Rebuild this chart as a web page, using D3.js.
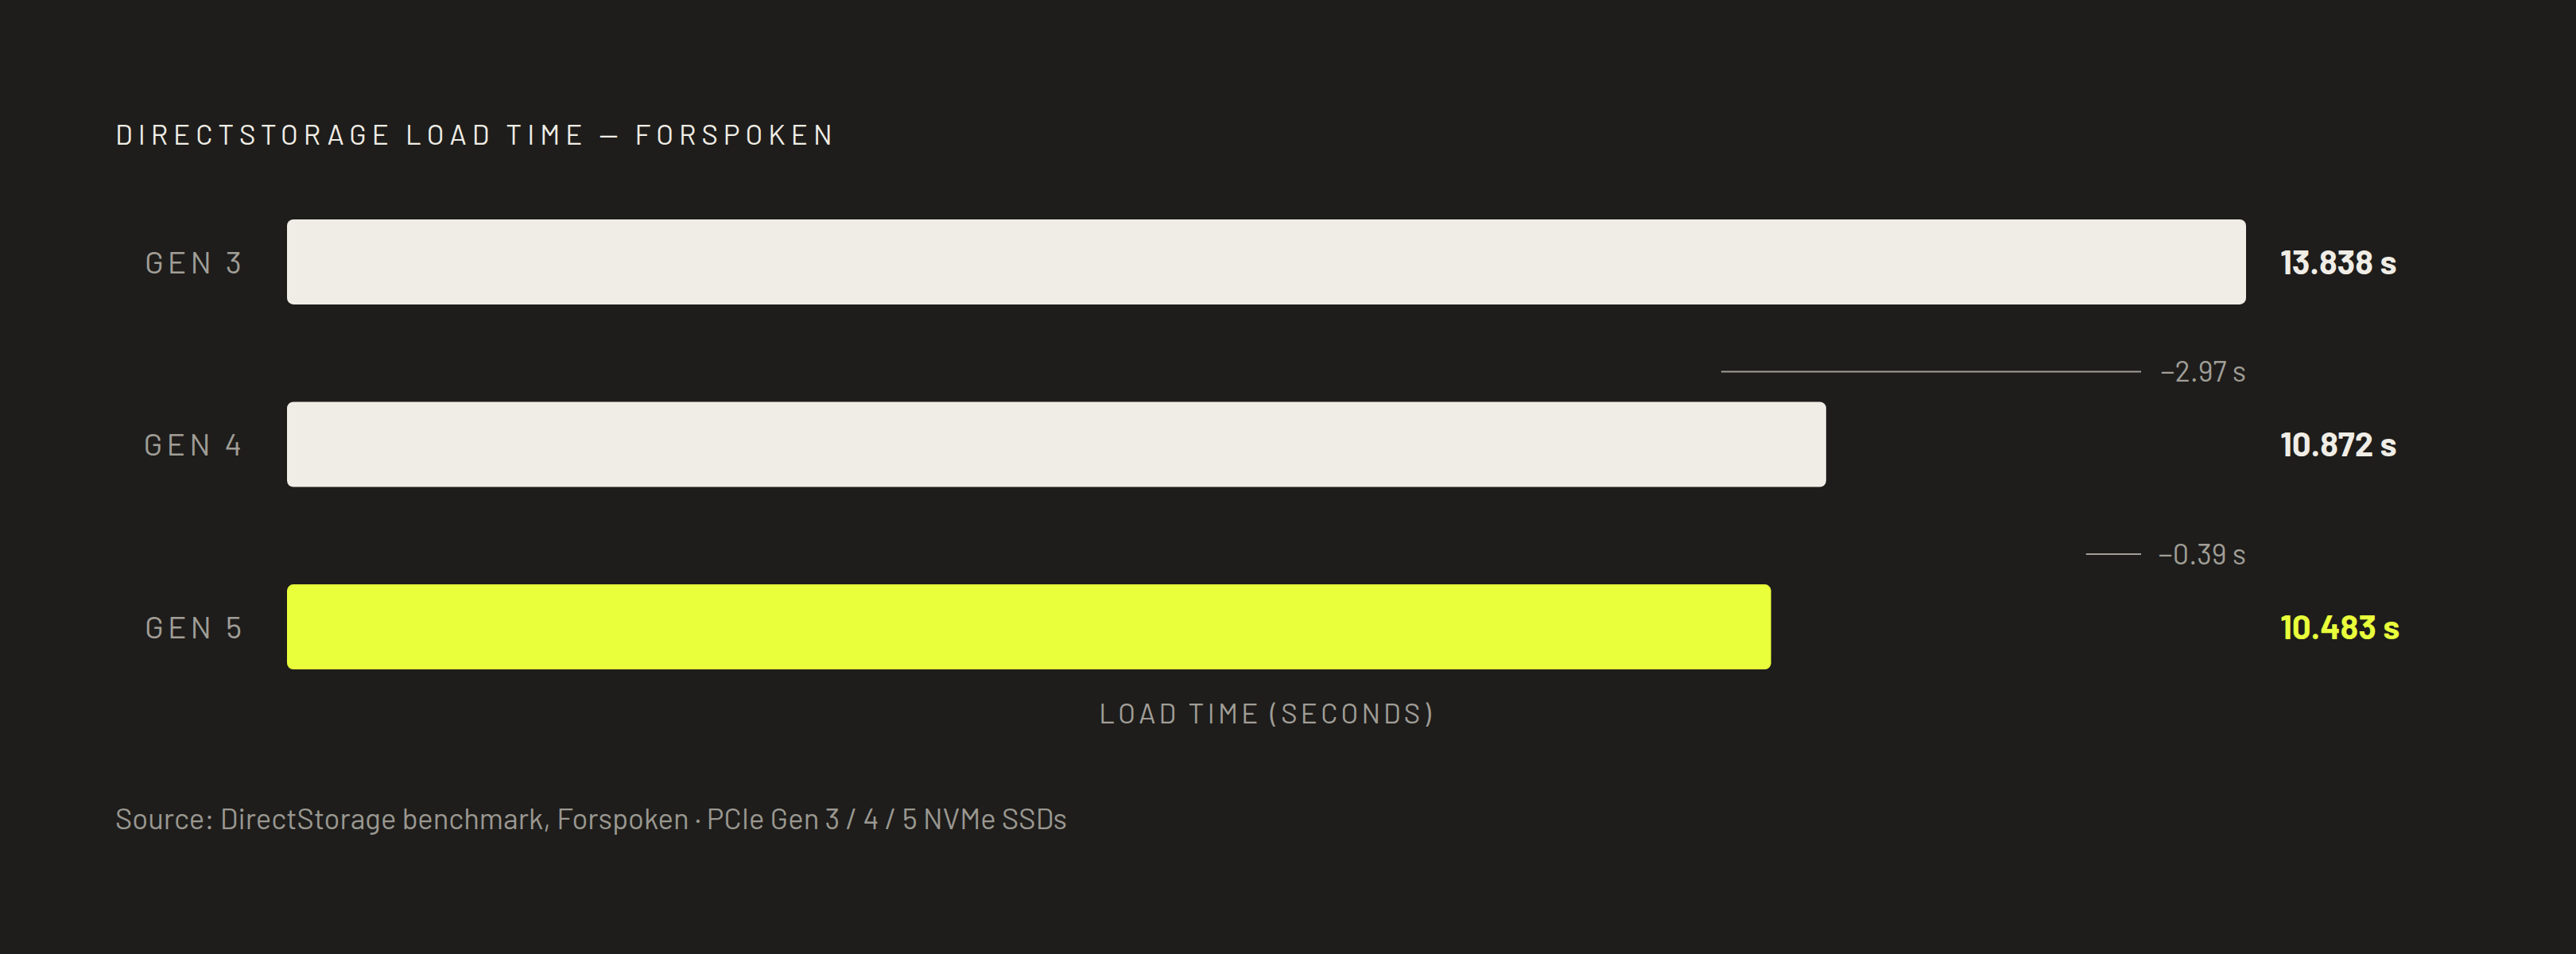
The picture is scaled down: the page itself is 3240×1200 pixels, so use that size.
<!DOCTYPE html>
<html>
<head>
<meta charset="utf-8">
<script src="https://cdn.jsdelivr.net/npm/d3@7"></script>
<style>
html, body { margin: 0; background: #1e1d1b; }
svg { display: block; font-family: Barlow, Roboto, sans-serif; }
</style>
</head>
<body>
<svg id="chart"></svg>
<script>
// data
var categories = ["GEN 3", "GEN 4", "GEN 5"];
var loadTimes = [13.838, 10.872, 10.483];
var highlightCat = "GEN 5";
var titleText = "DIRECTSTORAGE LOAD TIME — FORSPOKEN";
var axisTitle = "LOAD TIME (SECONDS)";
var sourceText = "Source: DirectStorage benchmark, Forspoken · PCIe Gen 3 / 4 / 5 NVMe SSDs";

var width = 3240, height = 1200;
var light = "#f0ede6", yellow = "#e9ff3b", grey = "#a09e97";

var svg = d3.select("#chart").attr("width", width).attr("height", height);

var x = d3.scaleLinear().domain([0, d3.max(loadTimes)]).range([361, 2825]);
var y = d3.scaleBand().domain(categories).range([276, 842]).paddingInner(0.534).paddingOuter(0);

var rows = categories.map(function(c, i) { return {cat: c, val: loadTimes[i]}; });

// title
svg.append("text")
    .attr("x", 145).attr("y", 182)
    .attr("fill", light)
    .style("font-size", "35px")
    .style("letter-spacing", "0.2em")
    .text(titleText);

// bars
svg.selectAll("rect.bar").data(rows).enter().append("rect")
    .attr("class", "bar")
    .attr("x", x(0))
    .attr("y", function(d) { return y(d.cat); })
    .attr("width", function(d) { return x(d.val) - x(0); })
    .attr("height", y.bandwidth())
    .attr("rx", 8)
    .attr("fill", function(d) { return d.cat == highlightCat ? yellow : light; });

// category labels
svg.selectAll("text.cat").data(rows).enter().append("text")
    .attr("class", "cat")
    .attr("x", x(0) - 52)
    .attr("y", function(d) { return y(d.cat) + y.bandwidth() / 2; })
    .attr("dy", "0.36em")
    .attr("text-anchor", "end")
    .attr("fill", grey)
    .style("font-size", "39px")
    .style("letter-spacing", "0.13em")
    .text(function(d) { return d.cat; });

// value labels
svg.selectAll("text.val").data(rows).enter().append("text")
    .attr("class", "val")
    .attr("x", x.range()[1] + 43)
    .attr("y", function(d) { return y(d.cat) + y.bandwidth() / 2; })
    .attr("dy", "0.36em")
    .attr("fill", function(d) { return d.cat == highlightCat ? yellow : light; })
    .style("font-size", "42px")
    .style("font-weight", "700")
    .text(function(d) { return d3.format(".3f")(d.val) + " s"; });

// deltas between consecutive rows
var deltas = rows.slice(1).map(function(d, i) {
    return {cat: d.cat, diff: rows[i].val - d.val};
});
var xEnd = x.range()[1];
var lineEnd = xEnd - 132;

svg.selectAll("line.delta").data(deltas).enter().append("line")
    .attr("class", "delta")
    .attr("x1", function(d) { return lineEnd - (x(d.diff) - x(0)); })
    .attr("x2", lineEnd)
    .attr("y1", function(d) { return y(d.cat) - 38; })
    .attr("y2", function(d) { return y(d.cat) - 38; })
    .attr("stroke", grey)
    .attr("stroke-width", 2);

svg.selectAll("text.delta").data(deltas).enter().append("text")
    .attr("class", "delta")
    .attr("x", xEnd)
    .attr("y", function(d) { return y(d.cat) - 38; })
    .attr("dy", "0.36em")
    .attr("text-anchor", "end")
    .attr("fill", grey)
    .style("font-size", "36px")
    .text(function(d) { return "−" + d3.format(".2f")(d.diff) + " s"; });

// axis title
svg.append("text")
    .attr("x", (x.range()[0] + x.range()[1]) / 2)
    .attr("y", 910)
    .attr("text-anchor", "middle")
    .attr("fill", grey)
    .style("font-size", "35px")
    .style("letter-spacing", "0.12em")
    .text(axisTitle);

// source
svg.append("text")
    .attr("x", 145).attr("y", 1043)
    .attr("fill", "#9a9891")
    .style("font-size", "36.5px")
    .text(sourceText);
</script>
</body>
</html>
